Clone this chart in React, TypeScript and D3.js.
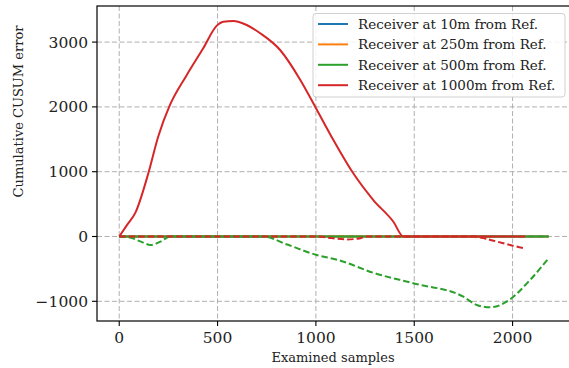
import React from "react";
import * as d3 from "d3";

const W = 569;
const H = 368;
const M = { left: 97, top: 6, right: 570, bottom: 321 };

const labels = [
  "Receiver at 10m from Ref.",
  "Receiver at 250m from Ref.",
  "Receiver at 500m from Ref.",
  "Receiver at 1000m from Ref.",
];
const colors = ["#1f77b4", "#ff7f0e", "#2ca02c", "#d62728"];

const xTicks = [0, 500, 1000, 1500, 2000];
const yTicks = [-1000, 0, 1000, 2000, 3000];

// solid series
const blueSolidX = [0, 2183];
const blueSolidY = [0, 0];
const orangeSolidX = [0, 2183];
const orangeSolidY = [0, 0];
const greenSolidX = [0, 2183];
const greenSolidY = [0, 0];
const redSolidX = [0, 40, 83, 148, 198, 258, 343, 427, 495, 529, 580, 648, 717, 818, 920, 997, 1089, 1190, 1292, 1394, 1445, 2065];
const redSolidY = [0, 180, 373, 975, 1540, 2030, 2490, 2905, 3250, 3315, 3326, 3264, 3136, 2878, 2420, 2000, 1489, 975, 563, 228, 0, 0];

// dashed series
const blueDashX = [0, 2183];
const blueDashY = [0, 0];
const orangeDashX = [0, 1750, 1830, 1880];
const orangeDashY = [0, 0, -15, -35];
const greenDashX = [0, 60, 110, 160, 210, 258, 733, 850, 1004, 1114, 1292, 1495, 1750, 1818, 1886, 1970, 2089, 2183];
const greenDashY = [0, -20, -80, -131, -80, 0, 0, -120, -285, -363, -560, -722, -929, -1057, -1093, -1006, -671, -337];
const redDashX = [0, 1000, 1080, 1157, 1220, 1255, 1800, 1903, 1987, 2047, 2065];
const redDashY = [0, 0, -25, -45, -30, 0, 0, -65, -131, -173, -182];

const series = [
  { x: blueSolidX, y: blueSolidY, c: 0, dash: false },
  { x: blueDashX, y: blueDashY, c: 0, dash: true },
  { x: orangeSolidX, y: orangeSolidY, c: 1, dash: false },
  { x: orangeDashX, y: orangeDashY, c: 1, dash: true },
  { x: greenSolidX, y: greenSolidY, c: 2, dash: false },
  { x: greenDashX, y: greenDashY, c: 2, dash: true },
  { x: redSolidX, y: redSolidY, c: 3, dash: false },
  { x: redDashX, y: redDashY, c: 3, dash: true },
];

const FONT = "'DejaVu Serif', serif";

export default function App() {
  const x = d3.scaleLinear().domain([-113, 2292]).range([M.left, M.right]);
  const y = d3.scaleLinear().domain([-1304, 3557]).range([M.bottom, M.top]);
  const line = d3
    .line<[number, number]>()
    .x((d) => x(d[0]))
    .y((d) => y(d[1]))
    .curve(d3.curveMonotoneX);

  return (
    <svg width={W} height={H} style={{ position: "absolute", left: 0, top: 0, background: "#fff" }}>
      <rect width={W} height={H} fill="#fff" />
      {xTicks.map((t) => (
        <line key={"gx" + t} x1={x(t)} x2={x(t)} y1={M.top} y2={M.bottom} stroke="#b0b0b0" strokeWidth={1} strokeDasharray="5,2.5" />
      ))}
      {yTicks.map((t) => (
        <line key={"gy" + t} x1={M.left} x2={M.right} y1={y(t)} y2={y(t)} stroke="#b0b0b0" strokeWidth={1} strokeDasharray="5,2.5" />
      ))}
      {series.map((s, i) => (
        <path
          key={i}
          d={line(s.x.map((v, j) => [v, s.y[j]] as [number, number])) || ""}
          fill="none"
          stroke={colors[s.c]}
          strokeWidth={2}
          strokeDasharray={s.dash ? "6.5,3" : undefined}
        />
      ))}
      <rect x={M.left} y={M.top} width={M.right - M.left} height={M.bottom - M.top} fill="none" stroke="#000" strokeWidth={1.2} />
      {xTicks.map((t) => (
        <g key={"tx" + t}>
          <line x1={x(t)} x2={x(t)} y1={M.bottom} y2={M.bottom + 5} stroke="#000" strokeWidth={1.1} />
          <text x={x(t)} y={M.bottom + 22} textAnchor="middle" fontFamily={FONT} fontSize={15.5} fill="#222">
            {t}
          </text>
        </g>
      ))}
      {yTicks.map((t) => (
        <g key={"ty" + t}>
          <line x1={M.left - 5} x2={M.left} y1={y(t)} y2={y(t)} stroke="#000" strokeWidth={1.1} />
          <text x={M.left - 9} y={y(t)} dy="0.35em" textAnchor="end" fontFamily={FONT} fontSize={15.5} fill="#222">
            {t < 0 ? "\u2212" + Math.abs(t) : t}
          </text>
        </g>
      ))}
      <text x={333} y={362} textAnchor="middle" fontFamily={FONT} fontSize={13} fill="#222">
        Examined samples
      </text>
      <text transform={`translate(23,111.5) rotate(-90)`} textAnchor="middle" fontFamily={FONT} fontSize={13} fill="#222">
        Cumulative CUSUM error
      </text>
      <g>
        <rect x={313} y={13.5} width={252} height={83.5} rx={3} fill="#fff" fillOpacity={0.85} stroke="#d0d0d0" strokeWidth={1} />
        {labels.map((l, i) => (
          <g key={l}>
            <line x1={318} x2={348} y1={24 + i * 20.4} y2={24 + i * 20.4} stroke={colors[i]} strokeWidth={2} />
            <text x={358} y={24 + i * 20.4} dy="0.35em" fontFamily={FONT} fontSize={13.5} fill="#222">
              {l}
            </text>
          </g>
        ))}
      </g>
    </svg>
  );
}
